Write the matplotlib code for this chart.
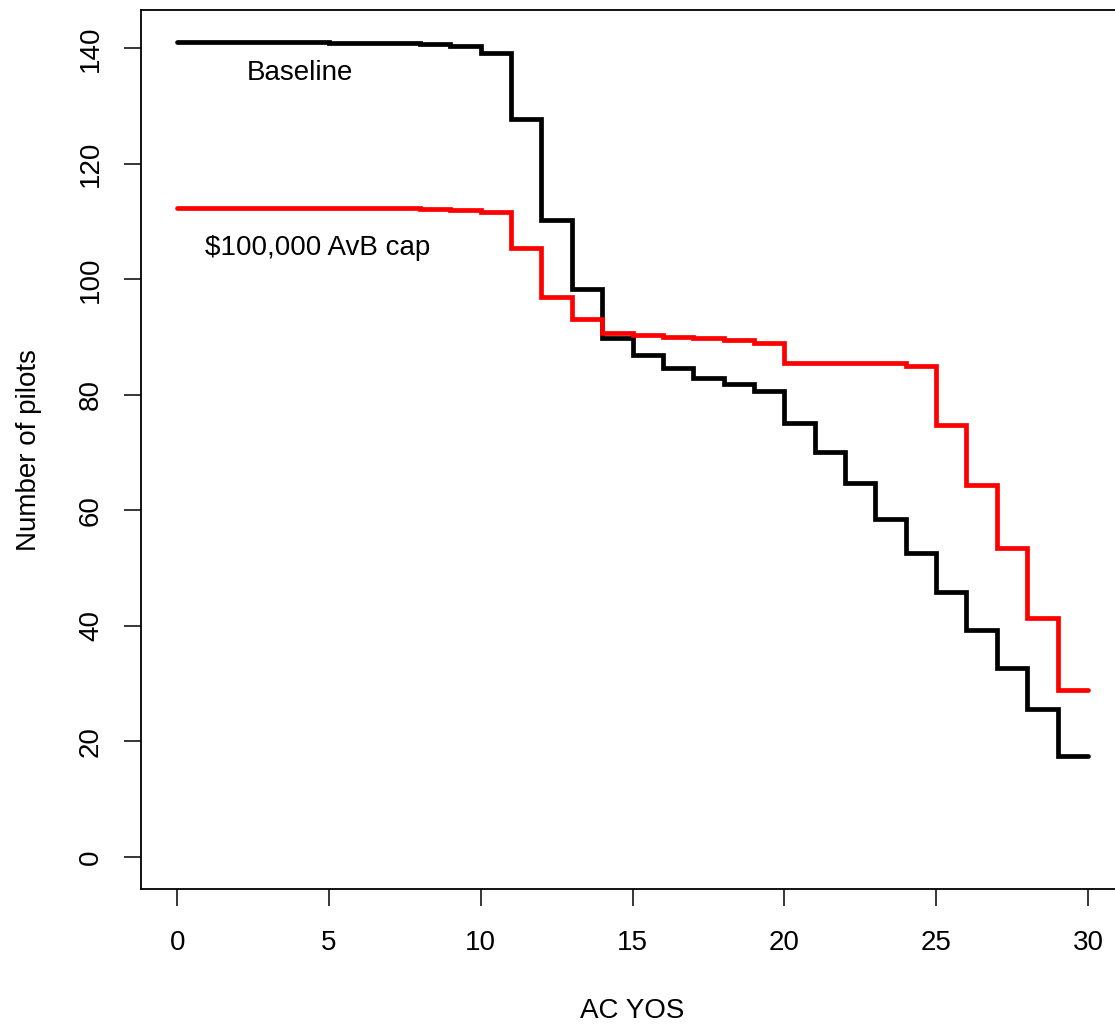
import matplotlib.pyplot as plt

plt.rcParams['font.family'] = ['Liberation Sans', 'DejaVu Sans']

yos = list(range(31))
baseline = [141.1, 141.1, 141.1, 141.1, 141.1, 141.0, 140.9, 140.9, 140.7, 140.4,
            139.2, 127.8, 110.3, 98.3, 89.9, 86.9, 84.7, 82.9, 81.9, 80.7,
            75.2, 70.1, 64.7, 58.5, 52.6, 45.8, 39.3, 32.7, 25.6, 17.4, 17.4]
avb_cap = [112.4, 112.4, 112.4, 112.4, 112.4, 112.3, 112.3, 112.3, 112.2, 112.0,
           111.6, 105.5, 96.9, 93.2, 90.7, 90.4, 90.1, 89.8, 89.5, 88.9,
           85.5, 85.5, 85.5, 85.5, 85.0, 74.8, 64.3, 53.5, 41.3, 28.9, 28.9]

fig = plt.figure(figsize=(11.15, 10.26), dpi=100)
ax = fig.add_axes([0.1262, 0.1332, 0.8822, 0.857])

ax.step(yos, baseline, where='post', color='black', lw=3.4,
        solid_capstyle='round', solid_joinstyle='miter')
ax.step(yos, avb_cap, where='post', color='red', lw=3.4,
        solid_capstyle='round', solid_joinstyle='miter')

ax.text(4.05, 135.8, 'Baseline', fontsize=20, ha='center', va='center')
ax.text(4.64, 105.5, r'\$100,000 AvB cap', fontsize=20, ha='center', va='center')

ax.set_xlim(-1.2, 31.2)
ax.set_ylim(-5.64, 146.64)
ax.set_xticks(range(0, 31, 5))
ax.set_yticks(range(0, 141, 20))
ax.tick_params(axis='both', labelsize=20, length=12.5, width=1.1)
ax.tick_params(axis='x', pad=17)
ax.tick_params(axis='y', pad=14)
for lab in ax.get_yticklabels():
    lab.set_rotation(90)
    lab.set_va('center')

for sp in ax.spines.values():
    sp.set_linewidth(1.3)

ax.set_xlabel('AC YOS', fontsize=20, labelpad=30)
ax.set_ylabel('Number of pilots', fontsize=20, labelpad=26)

fig.savefig('out.png', dpi=100)
